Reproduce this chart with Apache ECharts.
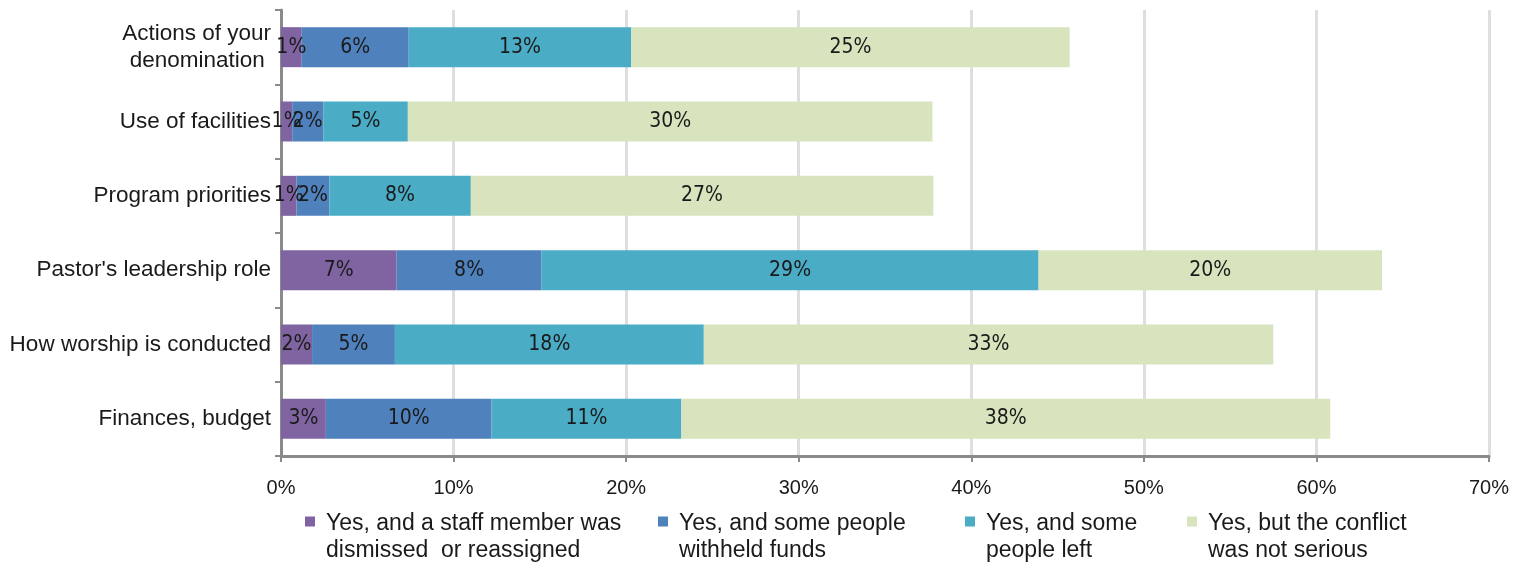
<!DOCTYPE html>
<html>
<head>
<meta charset="utf-8">
<script src="https://cdn.jsdelivr.net/npm/echarts@6/dist/echarts.min.js"></script>
<style>
  html, body { margin: 0; padding: 0; background: #ffffff; }
  #chart { width: 1532px; height: 568px; }
</style>
</head>
<body>
<div id="chart"></div>
<script>
// Conflict areas, listed bottom to top as they appear on the category axis
const categories = [
  'Finances, budget',
  'How worship is conducted',
  "Pastor's leadership role",
  'Program priorities',
  'Use of facilities',
  'Actions of your\ndenomination '
];

// Share of congregations (%) for each outcome of the conflict
const staffDismissed = [2.6, 1.8, 6.7, 0.9, 0.65, 1.2];
const fundsWithheld  = [9.6, 4.8, 8.4, 1.9, 1.8, 6.2];
const peopleLeft     = [11.0, 17.9, 28.8, 8.2, 4.9, 12.9];
const notSerious     = [37.6, 33.0, 19.9, 26.8, 30.4, 25.4];

const seriesNames = [
  'Yes, and a staff member was\ndismissed  or reassigned',
  'Yes, and some people\nwithheld funds',
  'Yes, and some\npeople left',
  'Yes, but the conflict\nwas not serious'
];
const seriesValues = [staffDismissed, fundsWithheld, peopleLeft, notSerious];
const seriesColors = ['#8064A2', '#4F81BD', '#4BACC6', '#D7E4BD'];

// Axis ticks
const xMin = 0, xMax = 70, xStep = 10;

const chart = echarts.init(document.getElementById('chart'), null, { renderer: 'canvas' });

const series = seriesNames.map((name, i) => ({
  name: name,
  type: 'bar',
  stack: 'total',
  barWidth: 40,
  data: seriesValues[i],
  itemStyle: { color: seriesColors[i] },
  label: {
    show: true,
    position: 'inside',
    color: '#1a1a1a',
    fontStyle: 'condensed',
    fontFamily: '"Liberation Sans Narrow", "DejaVu Sans", "Liberation Sans", sans-serif',
    fontSize: 21,
    formatter: p => Math.round(p.value) + '%'
  },
  emphasis: { disabled: true }
}));

// Legend marker: a square at the top of a tall, otherwise empty box, so the
// two-line text sits with its first line beside the square
const legendIcon = 'path://M0,0H10V10H0Z M0,41H10';

// One legend block per series so each can sit at its own column
const legendLeft = [305, 658, 965, 1187];
const legends = seriesNames.map((name, i) => ({
  data: [name],
  left: legendLeft[i],
  top: 510,
  padding: 0,
  orient: 'horizontal',
  icon: legendIcon,
  itemWidth: 10,
  itemHeight: 41,
  selectedMode: false,
  textStyle: {
    fontFamily: 'Liberation Sans',
    fontSize: 23,
    lineHeight: 27,
    color: '#1a1a1a',
    padding: [0, 0, 0, 6]
  }
}));

chart.setOption({
  animation: false,
  backgroundColor: '#ffffff',
  grid: { left: 281, right: 43, top: 10, bottom: 112 },
  legend: legends,
  xAxis: {
    type: 'value',
    min: xMin,
    max: xMax,
    interval: xStep,
    axisLine: { show: true, lineStyle: { color: '#8a8a8a', width: 3 } },
    axisTick: { show: true, length: 6, lineStyle: { color: '#8a8a8a', width: 2 } },
    axisLabel: {
      formatter: v => v + '%',
      fontFamily: 'Liberation Sans',
      fontSize: 20,
      color: '#1a1a1a',
      margin: 22
    },
    splitLine: { show: true, lineStyle: { color: '#dedede', width: 3 } }
  },
  yAxis: {
    type: 'category',
    data: categories,
    axisLine: { show: true, lineStyle: { color: '#8a8a8a', width: 3 } },
    axisTick: { show: true, length: 6, lineStyle: { color: '#8a8a8a', width: 2 } },
    axisLabel: {
      fontFamily: 'Liberation Sans',
      fontSize: 22.5,
      lineHeight: 27,
      color: '#1a1a1a',
      margin: 10,
      align: 'right'
    },
    splitLine: { show: false }
  },
  series: series
});
</script>
</body>
</html>
